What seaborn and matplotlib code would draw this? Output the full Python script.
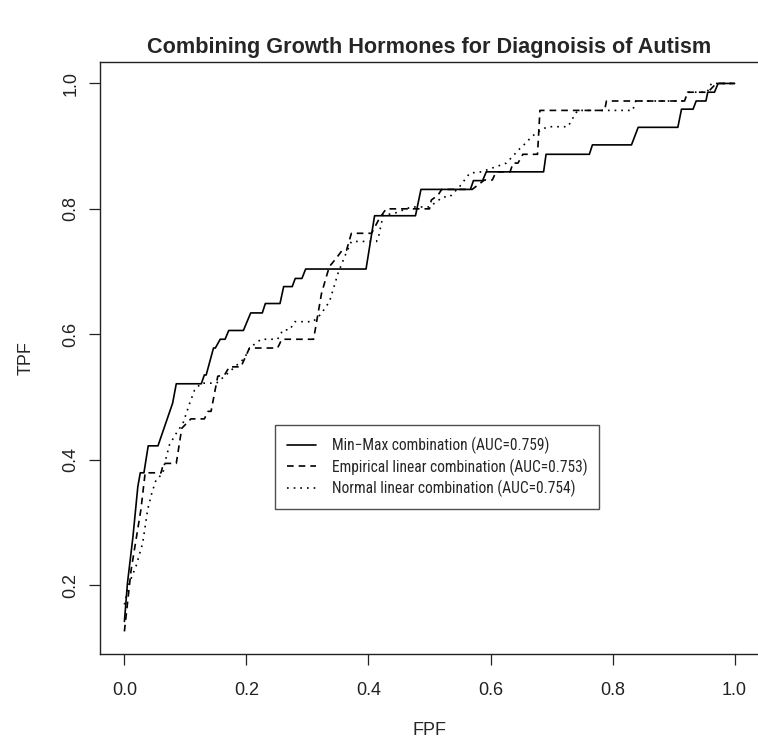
import numpy as np
import pandas as pd
import matplotlib
matplotlib.use("Agg")
import matplotlib.pyplot as plt
from matplotlib import font_manager
import seaborn as sns

# ROC curves (FPF, TPF)
minmax_fpf = [0, 0.005, 0.014, 0.022, 0.026, 0.032, 0.039, 0.055, 0.079, 0.085,
              0.126, 0.131, 0.134, 0.146, 0.149, 0.157, 0.165, 0.171, 0.195, 0.207,
              0.226, 0.231, 0.255, 0.261, 0.275, 0.280, 0.291, 0.297, 0.396, 0.410,
              0.477, 0.486, 0.567, 0.572, 0.587, 0.593, 0.687, 0.691, 0.762, 0.767,
              0.831, 0.842, 0.907, 0.913, 0.932, 0.937, 0.953, 0.956, 0.967, 0.973, 1.0]
minmax_tpf = [0.142, 0.203, 0.277, 0.357, 0.379, 0.379, 0.422, 0.422, 0.490, 0.521,
              0.521, 0.535, 0.535, 0.578, 0.578, 0.592, 0.592, 0.606, 0.606, 0.634,
              0.634, 0.649, 0.649, 0.676, 0.676, 0.689, 0.689, 0.704, 0.704, 0.789,
              0.789, 0.831, 0.831, 0.845, 0.845, 0.859, 0.859, 0.887, 0.887, 0.902,
              0.902, 0.930, 0.930, 0.959, 0.959, 0.972, 0.972, 0.986, 0.986, 1.0, 1.0]

emp_fpf = [0, 0.011, 0.027, 0.034, 0.060, 0.064, 0.085, 0.094, 0.109, 0.131,
           0.137, 0.142, 0.153, 0.164, 0.172, 0.191, 0.205, 0.251, 0.258, 0.310,
           0.315, 0.323, 0.331, 0.336, 0.347, 0.357, 0.364, 0.372, 0.405, 0.418,
           0.429, 0.500, 0.503, 0.514, 0.520, 0.570, 0.590, 0.603, 0.609, 0.632,
           0.637, 0.645, 0.653, 0.677, 0.681, 0.787, 0.790, 0.918, 0.923, 0.956,
           0.970, 1.0]
emp_tpf = [0.126, 0.224, 0.320, 0.379, 0.379, 0.394, 0.394, 0.450, 0.465, 0.465,
           0.477, 0.477, 0.533, 0.535, 0.548, 0.548, 0.578, 0.578, 0.592, 0.592,
           0.620, 0.665, 0.692, 0.708, 0.721, 0.734, 0.734, 0.761, 0.761, 0.785,
           0.800, 0.800, 0.814, 0.822, 0.831, 0.831, 0.846, 0.846, 0.859, 0.859,
           0.873, 0.873, 0.887, 0.887, 0.957, 0.957, 0.972, 0.972, 0.986, 0.986,
           1.0, 1.0]

norm_fpf = [0, 0.008, 0.019, 0.030, 0.038, 0.045, 0.052, 0.063, 0.066, 0.074,
            0.085, 0.096, 0.107, 0.115, 0.126, 0.151, 0.172, 0.197, 0.205, 0.224,
            0.251, 0.260, 0.271, 0.279, 0.309, 0.322, 0.336, 0.342, 0.350, 0.361,
            0.372, 0.413, 0.416, 0.424, 0.443, 0.470, 0.500, 0.522, 0.533, 0.549,
            0.566, 0.585, 0.626, 0.648, 0.660, 0.667, 0.683, 0.694, 0.727, 0.738,
            0.743, 0.833, 0.838, 0.918, 0.923, 0.955, 0.962, 1.0]
norm_tpf = [0.169, 0.203, 0.230, 0.267, 0.320, 0.347, 0.368, 0.378, 0.394, 0.424,
            0.442, 0.458, 0.490, 0.511, 0.522, 0.522, 0.540, 0.562, 0.578, 0.592,
            0.592, 0.607, 0.607, 0.620, 0.620, 0.632, 0.652, 0.671, 0.697, 0.724,
            0.748, 0.748, 0.753, 0.790, 0.793, 0.803, 0.803, 0.819, 0.819, 0.835,
            0.857, 0.859, 0.873, 0.896, 0.907, 0.915, 0.926, 0.931, 0.931, 0.950,
            0.957, 0.957, 0.972, 0.972, 0.986, 0.986, 1.0, 1.0]

labels = ["Min\u2212Max combination (AUC=0.759)",
          "Empirical linear combination (AUC=0.753)",
          "Normal linear combination (AUC=0.754)"]
title = "Combining Growth Hormones for Diagnoisis of Autism"

sns.set_style("ticks")
plt.rcParams['font.family'] = ['Liberation Sans', 'DejaVu Sans']

# legend text in the original is a narrow Helvetica; use a narrow face if there
names = {f.name for f in font_manager.fontManager.ttflist}
narrow = next((n for n in ['Liberation Sans Narrow', 'Roboto Condensed',
                           'Archivo Narrow']
               if n in names), 'Liberation Sans')

fig = plt.figure(figsize=(7.58, 7.47), dpi=100)
ax = fig.add_axes([100/758, 93/747, 659/758, 592.5/747])
renderer = fig.canvas.get_renderer()


def fit_size(text, target_px, family, weight="normal"):
    # font size that makes the text about target_px wide
    t = fig.text(0, 0, text, fontsize=13, family=family, weight=weight)
    w = t.get_window_extent(renderer=renderer).width
    t.remove()
    return 13 * target_px / w


lw = 1.2
sns.lineplot(x=minmax_fpf, y=minmax_tpf, ax=ax, color="black", lw=lw,
             sort=False, estimator=None, linestyle="-", label=labels[0])
sns.lineplot(x=emp_fpf, y=emp_tpf, ax=ax, color="black", lw=lw,
             sort=False, estimator=None, linestyle=(0, (4, 3)), label=labels[1])
sns.lineplot(x=norm_fpf, y=norm_tpf, ax=ax, color="black", lw=lw,
             sort=False, estimator=None, linestyle=(0, (1, 3)), label=labels[2])

ax.set_xlim(-0.04, 1.04)
ax.set_ylim(0.09, 1.035)
ax.set_xticks([0.0, 0.2, 0.4, 0.6, 0.8, 1.0])
ax.set_yticks([0.2, 0.4, 0.6, 0.8, 1.0])
ax.set_xticklabels(["0.0", "0.2", "0.4", "0.6", "0.8", "1.0"])
ax.set_yticklabels(["0.2", "0.4", "0.6", "0.8", "1.0"], rotation=90, va="center")
ax.tick_params(direction="out", length=8, width=0.9, colors="#222222",
               labelsize=13)
ax.tick_params(axis="x", pad=12)
ax.tick_params(axis="y", pad=7)
for sp in ax.spines.values():
    sp.set_visible(True)
    sp.set_color("#222222")
    sp.set_linewidth(1.0)

ax.set_xlabel("FPF", fontsize=13, labelpad=17)
ax.set_ylabel("TPF", fontsize=13, labelpad=20)

ax.set_title(title, fontsize=fit_size(title, 562, "Liberation Sans", "bold"),
             fontweight="bold", pad=6)

leg = ax.legend(loc="upper left", bbox_to_anchor=(175/659, 229/592.5),
                borderaxespad=0, frameon=True, fancybox=False,
                prop={'family': narrow,
                      'size': fit_size(labels[1], 256, narrow)},
                handlelength=1.9, handletextpad=1.0, labelspacing=0.28,
                borderpad=0.75)
leg.get_frame().set_edgecolor("#222222")
leg.get_frame().set_linewidth(1.0)

plt.savefig("out.png", dpi=100)
